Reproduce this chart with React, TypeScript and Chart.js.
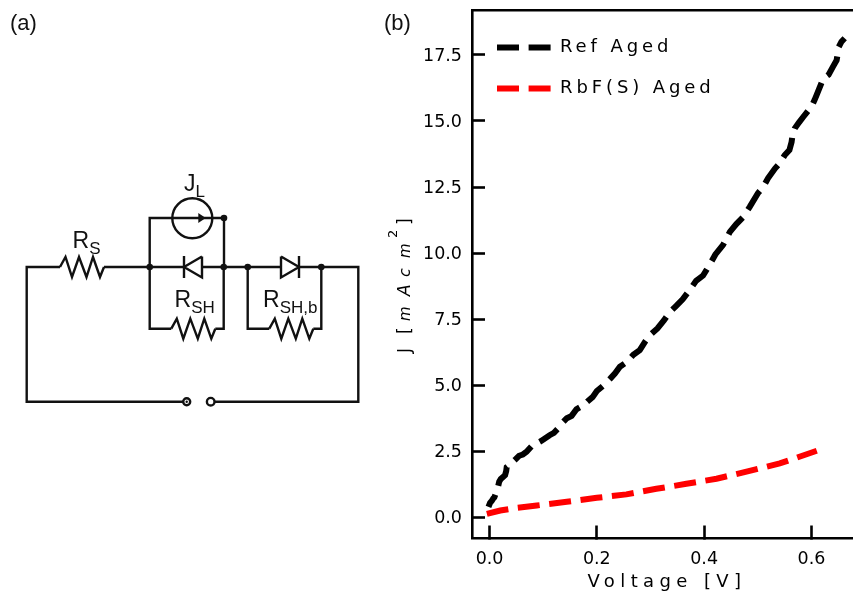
import React, { useEffect, useRef } from "react";
import { Chart, registerables } from "chart.js";

Chart.register(...registerables);

const refVoltage = [-0.002, 0.001, 0.004, 0.007, 0.009, 0.012, 0.014, 0.018, 0.021, 0.029, 0.031, 0.032, 0.038, 0.047, 0.055, 0.062, 0.069, 0.078, 0.088, 0.097, 0.112, 0.12, 0.128, 0.133, 0.144, 0.153, 0.162, 0.175, 0.182, 0.192, 0.2, 0.213, 0.225, 0.234, 0.243, 0.256, 0.268, 0.28, 0.29, 0.299, 0.313, 0.325, 0.336, 0.348, 0.36, 0.373, 0.385, 0.398, 0.41, 0.421, 0.435, 0.448, 0.46, 0.472, 0.485, 0.5, 0.51, 0.519, 0.532, 0.541, 0.55, 0.559, 0.563, 0.565, 0.569, 0.577, 0.585, 0.6, 0.606, 0.61, 0.622, 0.632, 0.64, 0.647, 0.649, 0.651, 0.656, 0.662];
const refCurrent = [0.4, 0.55, 0.62, 0.72, 0.76, 0.92, 1.0, 1.35, 1.45, 1.6, 1.75, 1.9, 2.0, 2.17, 2.33, 2.38, 2.48, 2.68, 2.8, 2.9, 3.11, 3.2, 3.37, 3.52, 3.75, 3.84, 4.09, 4.24, 4.38, 4.55, 4.78, 5.0, 5.25, 5.45, 5.7, 5.88, 6.15, 6.33, 6.65, 6.9, 7.15, 7.45, 7.77, 8.0, 8.25, 8.6, 8.95, 9.15, 9.55, 9.95, 10.3, 10.8, 11.1, 11.35, 11.75, 12.26, 12.5, 12.83, 13.2, 13.4, 13.7, 13.9, 14.2, 14.5, 14.72, 14.95, 15.16, 15.54, 15.8, 16.0, 16.6, 16.75, 17.05, 17.3, 17.55, 17.8, 18.0, 18.13];
const rbfVoltage = [-0.005, 0.02, 0.05, 0.088, 0.144, 0.2, 0.255, 0.311, 0.367, 0.423, 0.479, 0.541, 0.61];
const rbfCurrent = [0.13, 0.26, 0.36, 0.45, 0.59, 0.74, 0.87, 1.08, 1.27, 1.46, 1.73, 2.04, 2.52];

const xTickValues = [0, 0.2, 0.4, 0.6];
const yTickValues = [0, 2.5, 5, 7.5, 10, 12.5, 15, 17.5];
const seriesNames = ["Ref Aged", "RbF(S) Aged"];
const seriesColors = ["#000000", "#ff0000"];
const xTitle = "Voltage [V]";
const yTitle = "J [mAcm²]";
const yTitlePieces = [
  { text: "J", italic: false, raise: 0, size: 17, at: 0 },
  { text: "[", italic: false, raise: 0, size: 17, at: 19 },
  { text: "m", italic: true, raise: 0, size: 15, at: 32 },
  { text: "A", italic: true, raise: 0, size: 17, at: 57 },
  { text: "c", italic: true, raise: 0, size: 16, at: 76 },
  { text: "m", italic: true, raise: 0, size: 15, at: 95 },
  { text: "2", italic: false, raise: 13, size: 13, at: 115 },
  { text: "]", italic: false, raise: 0, size: 17, at: 128 },
];

const FONT = "'DejaVu Sans'";
const DASH = [22, 9.6];

const spacingPlugin = {
  id: "spacing",
  beforeDraw(chart: any) {
    const ctx = chart.ctx;
    const legend = chart.legend;
    if (legend && !legend.__wrapped) {
      const original = legend.draw;
      legend.draw = function () {
        ctx.save();
        ctx.letterSpacing = "3.9px";
        ctx.translate(2, 15.5);
        original.call(this);
        ctx.restore();
      };
      legend.__wrapped = true;
    }
    const xScale = chart.scales.x;
    if (xScale && !xScale.__wrapped) {
      const original = xScale.drawTitle;
      xScale.drawTitle = function () {
        ctx.save();
        ctx.letterSpacing = "5.4px";
        ctx.translate(4.5, 1.5);
        original.call(this);
        ctx.restore();
      };
      xScale.__wrapped = true;
    }
    const yScale = chart.scales.y;
    if (yScale && !yScale.__wrapped) {
      yScale.drawTitle = function () {
        ctx.save();
        ctx.translate(410, 353);
        ctx.rotate(-Math.PI / 2);
        ctx.fillStyle = "#000";
        ctx.textAlign = "left";
        ctx.textBaseline = "alphabetic";
        for (const p of yTitlePieces) {
          ctx.font = `${p.italic ? "italic " : ""}${p.size}px ${FONT}`;
          ctx.fillText(p.text, p.at, -p.raise);
        }
        ctx.restore();
      };
      const originalLabels = yScale.drawLabels;
      yScale.drawLabels = function (area: any) {
        ctx.save();
        ctx.translate(0, 1.5);
        originalLabels.call(this, area);
        ctx.restore();
      };
      yScale.__wrapped = true;
    }
  },
};

const zigzag = (x: number, y: number) => {
  const dx = [0, 5.5, 12, 19, 26.5, 33, 40, 44];
  const dy = [0, -10, 10, -10, 10, -10, 10, 0];
  return dx.map((d, i) => `${x + d},${y + dy[i]}`).join(" ");
};

const clearPadding = (s: any) => {
  s.paddingTop = 0;
  s.paddingBottom = 0;
  s.paddingLeft = 0;
  s.paddingRight = 0;
};

function Schematic() {
  const wire = { fill: "none", stroke: "#111", strokeWidth: 2.4, strokeLinejoin: "miter" as const };
  const text = { fontFamily: "'Liberation Sans'", fill: "#111" };
  const nodes = [[149.7, 267], [223.7, 267], [247.7, 267], [321.3, 267], [224, 218]];
  const label = (x: number, y: number, main: string, sub: string) => (
    <text x={x} y={y} fontSize={23} {...text}>
      {main}
      <tspan dy={6} fontSize={17}>{sub}</tspan>
    </text>
  );
  return (
    <svg width={853} height={592} style={{ position: "absolute", left: 0, top: 0, pointerEvents: "none" }}>
      <text x={10} y={30} fontSize={22} {...text}>(a)</text>
      <text x={384} y={30} fontSize={22} {...text}>(b)</text>
      <polyline points="183,401.7 26.7,401.7 26.7,267 60,267" {...wire} />
      <polyline points={zigzag(60, 267)} {...wire} />
      <polyline points="104,267 184,267" {...wire} />
      <polyline points="202,267 281,267" {...wire} />
      <polyline points="299,267 358.3,267 358.3,401.7 215,401.7" {...wire} />
      <polyline points="149.7,267 149.7,218 224,218 224,267" {...wire} />
      <circle cx={192.3} cy={218.3} r={20} {...wire} />
      <polygon points="205.7,218 198.3,213 198.3,223" fill="#111" />
      <polyline points="202,256.5 184,267 202,277.5 202,256.5" {...wire} />
      <line x1={184} y1={256} x2={184} y2={278} {...wire} />
      <polyline points="281,256.5 299,267 281,277.5 281,256.5" {...wire} />
      <line x1={299} y1={256} x2={299} y2={278} {...wire} />
      <polyline points="149.7,267 149.7,328.7 171.3,328.7" {...wire} />
      <polyline points={zigzag(171.3, 328.7)} {...wire} />
      <polyline points="215.3,328.7 223.7,328.7 223.7,267" {...wire} />
      <polyline points="247.7,267 247.7,328.7 269.3,328.7" {...wire} />
      <polyline points={zigzag(269.3, 328.7)} {...wire} />
      <polyline points="313.3,328.7 321.3,328.7 321.3,267" {...wire} />
      {nodes.map(([cx, cy], i) => <circle key={i} cx={cx} cy={cy} r={3.3} fill="#111" />)}
      <circle cx={186.7} cy={401.7} r={3.5} {...wire} />
      <circle cx={186.7} cy={401.7} r={1.2} fill="#111" />
      <circle cx={210.7} cy={401.7} r={3.8} {...wire} />
      {label(72.5, 248, "R", "S")}
      {label(184, 191, "J", "L")}
      {label(174.5, 307.3, "R", "SH")}
      {label(263, 307.3, "R", "SH,b")}
    </svg>
  );
}

export default function App() {
  const ref = useRef<HTMLCanvasElement>(null);
  useEffect(() => {
    const axisBorder = { display: true, color: "#000", width: 2.6 };
    const chart = new Chart(ref.current as HTMLCanvasElement, {
      type: "line",
      plugins: [spacingPlugin],
      data: {
        datasets: [
          {
            label: seriesNames[0],
            data: refVoltage.map((x, i) => ({ x, y: refCurrent[i] })),
            borderColor: seriesColors[0],
            borderWidth: 6,
            borderDash: DASH,
            borderDashOffset: 8,
            pointRadius: 0,
            tension: 0,
            order: 2,
          },
          {
            label: seriesNames[1],
            data: rbfVoltage.map((x, i) => ({ x, y: rbfCurrent[i] })),
            borderColor: seriesColors[1],
            borderWidth: 6,
            borderDash: DASH,
            pointRadius: 0,
            tension: 0,
            order: 1,
          },
        ],
      },
      options: {
        responsive: false,
        animation: false,
        layout: { padding: { top: 10, left: 0, right: 0, bottom: 0 } },
        scales: {
          x: {
            type: "linear",
            position: "bottom",
            min: -0.0327,
            max: 0.6775,
            border: axisBorder,
            grid: { drawOnChartArea: false, tickLength: -13, tickWidth: 2.6, tickColor: "#000" },
            afterBuildTicks: (s: any) => { s.ticks = xTickValues.map((value) => ({ value })); },
            ticks: {
              padding: 23,
              color: "#000",
              maxRotation: 0,
              font: { family: FONT, size: 17.5 },
              callback: (v: any) => Number(v).toFixed(1),
            },
            title: {
              display: true,
              text: xTitle,
              color: "#000",
              font: { family: FONT, size: 18 },
              padding: 0,
            },
            afterFit: (s: any) => { s.height = 53.5; clearPadding(s); },
          },
          x2: {
            type: "linear",
            position: "top",
            min: -0.0327,
            max: 0.6775,
            border: axisBorder,
            grid: { drawOnChartArea: false, drawTicks: false },
            ticks: { display: false },
            afterFit: (s: any) => { s.height = 0; clearPadding(s); },
          },
          y: {
            type: "linear",
            position: "left",
            min: -0.8,
            max: 19.2,
            border: axisBorder,
            grid: { drawOnChartArea: false, tickLength: -13, tickWidth: 2.6, tickColor: "#000" },
            afterBuildTicks: (s: any) => { s.ticks = yTickValues.map((value) => ({ value })); },
            ticks: {
              padding: 23,
              color: "#000",
              font: { family: FONT, size: 17.5 },
              callback: (v: any) => Number(v).toFixed(1),
            },
            title: { display: true, text: yTitle, color: "#000", font: { family: FONT, size: 18 } },
            afterFit: (s: any) => { s.width = 472; clearPadding(s); },
          },
        },
        plugins: {
          tooltip: { enabled: false },
          legend: {
            position: "chartArea",
            align: "start",
            labels: {
              padding: 23,
              boxHeight: 17,
              boxWidth: 17,
              usePointStyle: true,
              pointStyleWidth: 54,
              color: "#000",
              font: { family: FONT, size: 18 },
              generateLabels: () =>
                seriesNames.map((text, i) => ({
                  text,
                  datasetIndex: i,
                  hidden: false,
                  fillStyle: seriesColors[i],
                  strokeStyle: seriesColors[i],
                  lineWidth: 6,
                  lineDash: DASH,
                  pointStyle: "line",
                  fontColor: "#000",
                })),
            },
          },
        },
      },
    } as any);
    return () => chart.destroy();
  }, []);
  return (
    <div style={{ position: "absolute", left: 0, top: 0, width: 853, height: 592, background: "#fff" }}>
      <canvas ref={ref} width={853} height={592} style={{ display: "block" }} />
      <Schematic />
    </div>
  );
}
